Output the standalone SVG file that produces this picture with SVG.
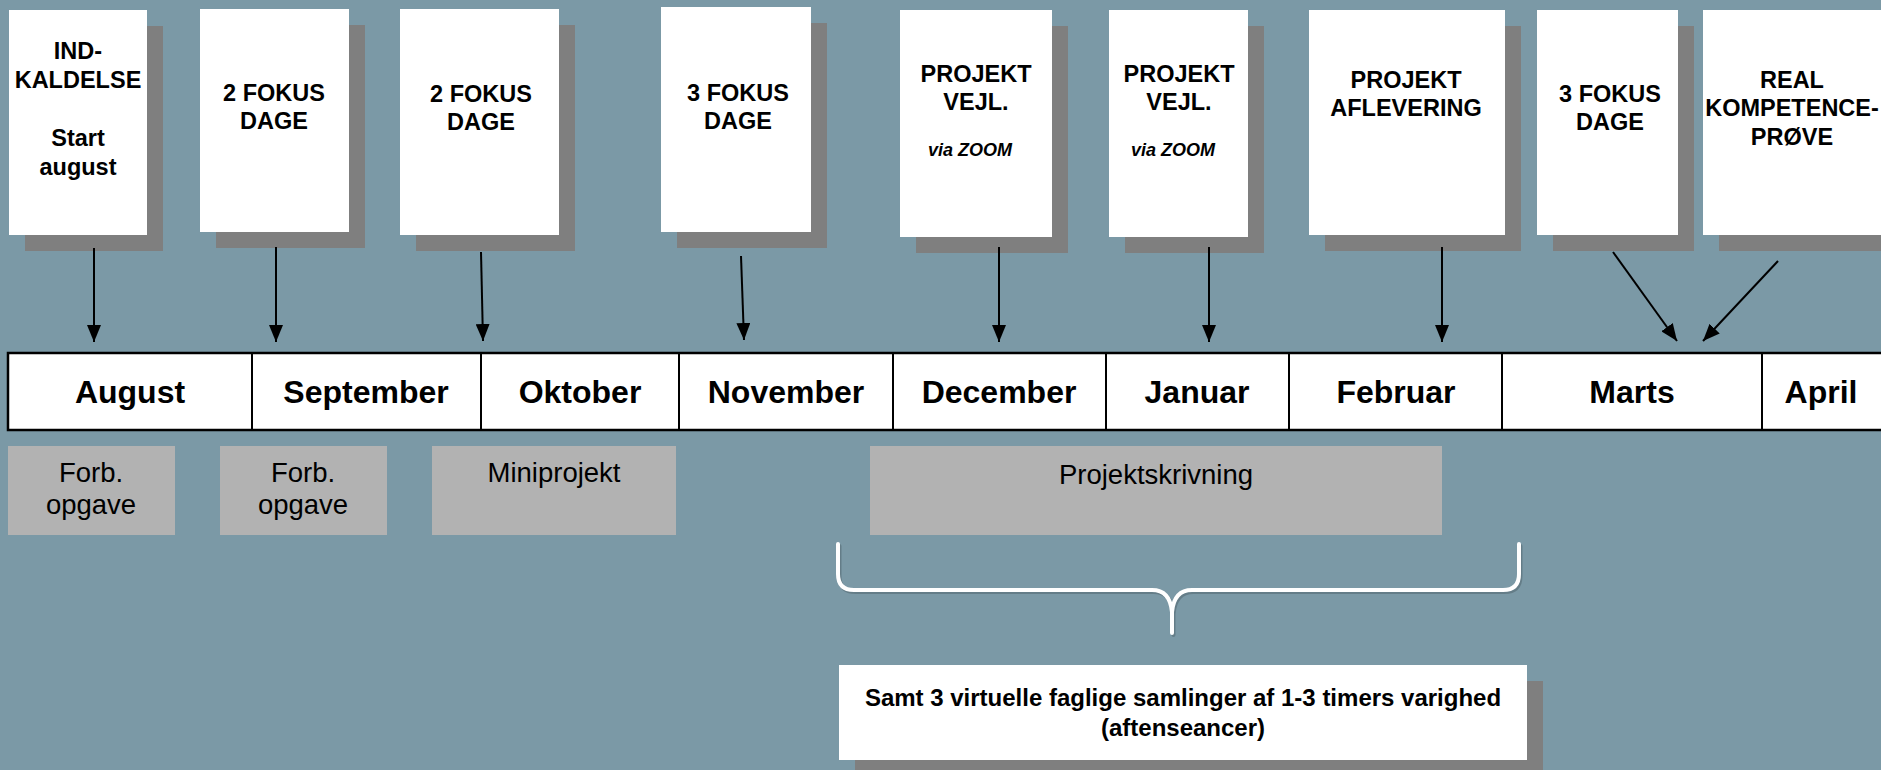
<svg xmlns="http://www.w3.org/2000/svg" width="1881" height="770" viewBox="0 0 1881 770">
<defs>
<marker id="ah" viewBox="0 0 17 14" refX="17" refY="7" markerWidth="17" markerHeight="14" markerUnits="userSpaceOnUse" orient="auto">
<path d="M0,0 L17,7 L0,14 z" fill="#000"/>
</marker>
</defs>
<style>
.sh{fill:#7f7f7f}
.card{fill:#fff}
.t{font-family:"Liberation Sans",Arial,sans-serif;font-weight:bold;font-size:23.5px;fill:#000;text-anchor:middle}
.vz{font-family:"Liberation Sans",Arial,sans-serif;font-weight:bold;font-style:italic;font-size:18px;fill:#000;text-anchor:middle}
.m{font-family:"Liberation Sans",Arial,sans-serif;font-weight:bold;font-size:32px;fill:#000;text-anchor:middle}
.g{fill:#b2b2b2}
.gt{font-family:"Liberation Sans",Arial,sans-serif;font-size:27.5px;fill:#000;text-anchor:middle}
.bt{font-family:"Liberation Sans",Arial,sans-serif;font-weight:bold;font-size:24px;fill:#000;text-anchor:middle}
.arr{stroke:#000;stroke-width:2;fill:none;marker-end:url(#ah)}
.div{stroke:#000;stroke-width:2}
</style>
<rect width="1881" height="770" fill="#7b99a6"/>

<g id="n1">
<rect class="sh" x="25" y="26" width="138" height="225"/>
<rect class="card" x="9" y="10" width="138" height="225"/>
<text class="t" x="78" y="59">IND-</text>
<text class="t" x="78" y="88">KALDELSE</text>
<text class="t" x="78" y="146">Start</text>
<text class="t" x="78" y="175">august</text>
</g>
<g id="n2">
<rect class="sh" x="216" y="25" width="149" height="223"/>
<rect class="card" x="200" y="9" width="149" height="223"/>
<text class="t" x="274" y="101">2 FOKUS</text>
<text class="t" x="274" y="129">DAGE</text>
</g>
<g id="n3">
<rect class="sh" x="416" y="25" width="159" height="226"/>
<rect class="card" x="400" y="9" width="159" height="226"/>
<text class="t" x="481" y="102">2 FOKUS</text>
<text class="t" x="481" y="130">DAGE</text>
</g>
<g id="n4">
<rect class="sh" x="677" y="23" width="150" height="225"/>
<rect class="card" x="661" y="7" width="150" height="225"/>
<text class="t" x="738" y="101">3 FOKUS</text>
<text class="t" x="738" y="129">DAGE</text>
</g>
<g id="n5">
<rect class="sh" x="916" y="26" width="152" height="227"/>
<rect class="card" x="900" y="10" width="152" height="227"/>
<text class="t" x="976" y="82">PROJEKT</text>
<text class="t" x="976" y="110">VEJL.</text>
<text class="vz" x="970" y="156">via ZOOM</text>
</g>
<g id="n6">
<rect class="sh" x="1125" y="26" width="139" height="227"/>
<rect class="card" x="1109" y="10" width="139" height="227"/>
<text class="t" x="1179" y="82">PROJEKT</text>
<text class="t" x="1179" y="110">VEJL.</text>
<text class="vz" x="1173" y="156">via ZOOM</text>
</g>
<g id="n7">
<rect class="sh" x="1325" y="26" width="196" height="225"/>
<rect class="card" x="1309" y="10" width="196" height="225"/>
<text class="t" x="1406" y="88">PROJEKT</text>
<text class="t" x="1406" y="116">AFLEVERING</text>
</g>
<g id="n8">
<rect class="sh" x="1553" y="26" width="141" height="225"/>
<rect class="card" x="1537" y="10" width="141" height="225"/>
<text class="t" x="1610" y="102">3 FOKUS</text>
<text class="t" x="1610" y="130">DAGE</text>
</g>
<g id="n9">
<rect class="sh" x="1719" y="26" width="200" height="225"/>
<rect class="card" x="1703" y="10" width="200" height="225"/>
<text class="t" x="1792" y="88">REAL</text>
<text class="t" x="1792" y="116">KOMPETENCE-</text>
<text class="t" x="1792" y="145">PRØVE</text>
</g>

<g id="connectors">
<line class="arr" x1="94" y1="248" x2="94" y2="342"/>
<line class="arr" x1="276" y1="247" x2="276" y2="342"/>
<line class="arr" x1="481" y1="252" x2="483" y2="341"/>
<line class="arr" x1="741" y1="256" x2="744" y2="340"/>
<line class="arr" x1="999" y1="247" x2="999" y2="342"/>
<line class="arr" x1="1209" y1="247" x2="1209" y2="342"/>
<line class="arr" x1="1442" y1="247" x2="1442" y2="342"/>
<line class="arr" x1="1613" y1="252" x2="1677" y2="341"/>
<line class="arr" x1="1778" y1="261" x2="1703" y2="341"/>
</g>

<g id="timeline">
<rect x="8" y="353" width="1890" height="77" fill="#fff" stroke="#000" stroke-width="2.5"/>
<line class="div" x1="252" y1="353" x2="252" y2="430"/>
<line class="div" x1="481" y1="353" x2="481" y2="430"/>
<line class="div" x1="679" y1="353" x2="679" y2="430"/>
<line class="div" x1="893" y1="353" x2="893" y2="430"/>
<line class="div" x1="1106" y1="353" x2="1106" y2="430"/>
<line class="div" x1="1289" y1="353" x2="1289" y2="430"/>
<line class="div" x1="1502" y1="353" x2="1502" y2="430"/>
<line class="div" x1="1762" y1="353" x2="1762" y2="430"/>
<text class="m" x="130" y="403">August</text>
<text class="m" x="366" y="403">September</text>
<text class="m" x="580" y="403">Oktober</text>
<text class="m" x="786" y="403">November</text>
<text class="m" x="999" y="403">December</text>
<text class="m" x="1197" y="403">Januar</text>
<text class="m" x="1396" y="403">Februar</text>
<text class="m" x="1632" y="403">Marts</text>
<text class="m" x="1821" y="403">April</text>
</g>

<g id="g1">
<rect class="g" x="8" y="446" width="167" height="89"/>
<text class="gt" x="91" y="482">Forb.</text>
<text class="gt" x="91" y="514">opgave</text>
</g>
<g id="g2">
<rect class="g" x="220" y="446" width="167" height="89"/>
<text class="gt" x="303" y="482">Forb.</text>
<text class="gt" x="303" y="514">opgave</text>
</g>
<g id="g3">
<rect class="g" x="432" y="446" width="244" height="89"/>
<text class="gt" x="554" y="482">Miniprojekt</text>
</g>
<g id="g4">
<rect class="g" x="870" y="446" width="572" height="89"/>
<text class="gt" x="1156" y="484">Projektskrivning</text>
</g>

<g id="brace">
<path d="M838 544 V574 Q838 590 854 590 H1152 Q1170 590 1172 612 V633 M1172 612 Q1174 590 1192 590 H1503 Q1519 590 1519 574 V544" fill="none" stroke="#000" stroke-opacity="0.18" stroke-width="4" transform="translate(1.5,2)" stroke-linecap="round"/>
<path d="M838 544 V574 Q838 590 854 590 H1152 Q1170 590 1172 612 V633 M1172 612 Q1174 590 1192 590 H1503 Q1519 590 1519 574 V544" fill="none" stroke="#fff" stroke-width="4" stroke-linecap="round"/>
</g>

<g id="note">
<rect class="sh" x="855" y="681" width="688" height="100"/>
<rect class="card" x="839" y="665" width="688" height="95"/>
<text class="bt" x="1183" y="706">Samt 3 virtuelle faglige samlinger af 1-3 timers varighed</text>
<text class="bt" x="1183" y="736">(aftenseancer)</text>
</g>
</svg>
